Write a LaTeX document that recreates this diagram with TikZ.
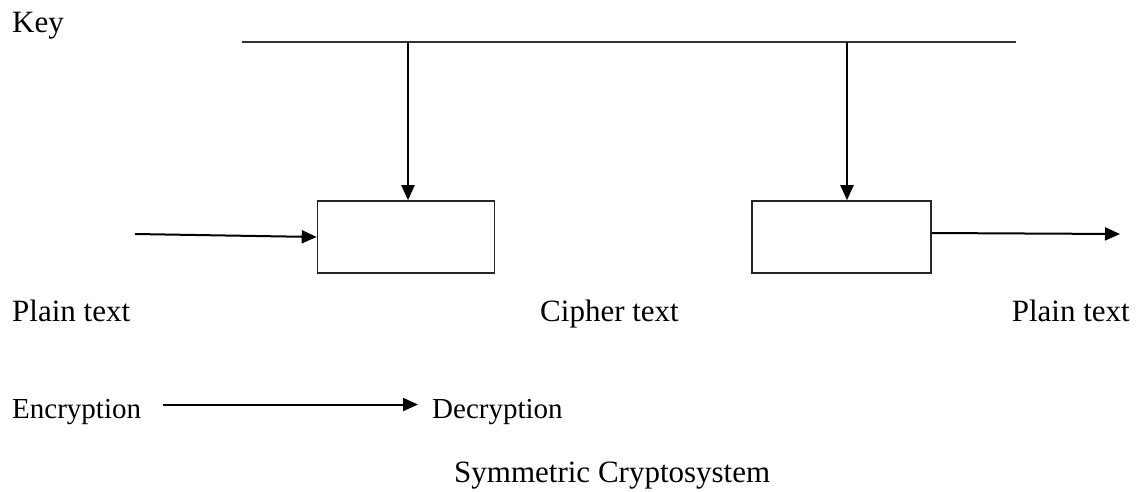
\documentclass[tikz,border=0pt]{standalone}
\usepackage{fontspec}
\setmainfont{Liberation Serif}
\usetikzlibrary{arrows.meta,positioning}

\begin{document}
\begin{tikzpicture}[x=1pt,y=-1pt,
	lbl/.style={inner sep=0pt,font=\fontsize{31}{37}\selectfont},
	smalllbl/.style={inner sep=0pt,font=\fontsize{29}{35}\selectfont},
	cbox/.style={draw=black!85,line width=1.6pt,minimum width=177pt,minimum height=72pt,inner sep=0pt},
	arr/.style={line width=2pt,-{Triangle[length=15pt,width=13pt]}}]
	\useasboundingbox (0,0) rectangle (1136,491);
	% key line
	\coordinate (keyL) at (242,42);
	\coordinate (keyR) at (1016,42);
	\coordinate (k1) at (408,42);
	\coordinate (k2) at (847,42);
	\draw[line width=1.6pt,black!80] (keyL) -- (keyR);
	% boxes
	\node[cbox] (enc) at (406,237) {};
	\node[cbox,minimum width=179pt] (dec) at (841.5,237) {};
	\coordinate (inL) at (135,234);
	\coordinate (outR) at (1120,234);
	\path[arr]
	(k1) edge (k1 |- enc.north)
	(k2) edge (k2 |- dec.north)
	(inL) edge (enc.west)
	([yshift=4pt]dec.east) edge (outR);
	% labels
	\node[lbl,anchor=base west] (key) at (12,32) {Key};
	\node[lbl,anchor=base west] (plainL) at (12,321) {Plain text};
	\node[lbl,anchor=base west] (cipher) at (540,321) {Cipher text};
	\node[lbl,anchor=base east] (plainR) at (1130,321) {Plain text};
	\node[smalllbl,anchor=base west] (encl) at (12,418) {Encryption};
	\node[smalllbl,anchor=base west] (decl) at (432,418) {Decryption};
	\draw[arr,shorten <=22pt,shorten >=14pt] ([yshift=7pt]encl.east) -- ([yshift=7pt]decl.west);
	\node[lbl,anchor=base west] (title) at (454,482) {Symmetric Cryptosystem};
\end{tikzpicture}
\end{document}
